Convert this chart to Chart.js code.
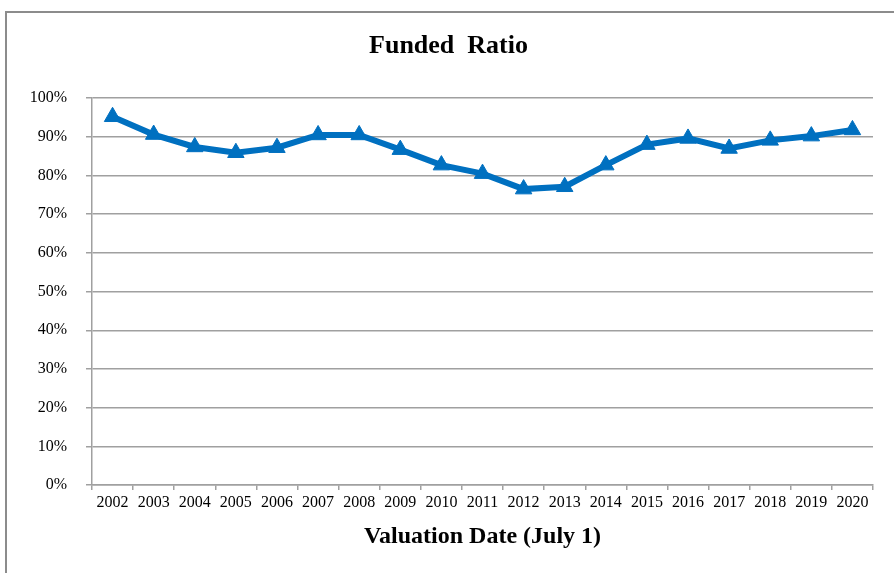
<!DOCTYPE html>
<html>
<head>
<meta charset="utf-8">
<script src="https://cdn.jsdelivr.net/npm/chart.js@4"></script>
<style>
  html, body { margin: 0; padding: 0; background: #fff; overflow: hidden; }
  #wrap { position: relative; width: 894px; height: 573px; }
  #frame { position: absolute; left: 5px; top: 11px; width: 1000px; height: 1000px;
           border-left: 2px solid #8c8c8c; border-top: 2px solid #8c8c8c; pointer-events: none; }
</style>
</head>
<body>
<div id="wrap">
  <canvas id="c" width="894" height="573"></canvas>
  <div id="frame"></div>
</div>
<script>
const chartTitle = 'Funded  Ratio';
const xAxisTitle = 'Valuation Date (July 1)';
const years = ['2002','2003','2004','2005','2006','2007','2008','2009','2010','2011',
               '2012','2013','2014','2015','2016','2017','2018','2019','2020'];
const fundedRatio = [95.2, 90.6, 87.4, 85.9, 87.2, 90.5, 90.5, 86.7, 82.7, 80.5,
                     76.5, 77.1, 82.7, 88.0, 89.6, 87.0, 89.1, 90.2, 91.8];
const yTickValues = [0, 10, 20, 30, 40, 50, 60, 70, 80, 90, 100];

const serif = "'Liberation Serif', 'Times New Roman', serif";
const gridGray = '#a0a0a0';

new Chart(document.getElementById('c'), {
  type: 'line',
  data: {
    labels: years,
    datasets: [{
      data: fundedRatio,
      borderColor: '#0070C0',
      backgroundColor: '#0070C0',
      borderWidth: 6,
      pointStyle: 'triangle',
      pointRadius: 9.5,
      pointHoverRadius: 9.5,
      pointBorderWidth: 1,
      tension: 0,
      fill: false
    }]
  },
  options: {
    responsive: false,
    animation: false,
    devicePixelRatio: 1,
    layout: { padding: { left: 24, right: 21, top: 0, bottom: 0 } },
    plugins: {
      legend: { display: false },
      tooltip: { enabled: false },
      title: {
        display: true,
        text: chartTitle,
        color: '#000',
        font: { family: serif, size: 26, weight: 'bold', lineHeight: 1.2 },
        padding: { top: 31, bottom: 36 }
      }
    },
    scales: {
      x: {
        type: 'category',
        offset: true,
        grid: { display: true, drawOnChartArea: false, drawTicks: true, tickLength: 5,
                color: gridGray, lineWidth: 1.5, offset: true },
        border: { display: true, color: gridGray, width: 1.5 },
        ticks: { color: '#000', font: { family: serif, size: 16 }, padding: 3,
                 maxRotation: 0, autoSkip: false },
        title: { display: true, text: xAxisTitle, color: '#000',
                 font: { family: serif, size: 24, weight: 'bold', lineHeight: 1.2 },
                 padding: { top: 0, bottom: 22 } },
        afterFit: (s) => { s.height = 88; }
      },
      y: {
        min: 0, max: 100,
        afterBuildTicks: (s) => { s.ticks = yTickValues.map(v => ({ value: v })); },
        grid: { color: gridGray, lineWidth: 1.5, tickLength: 6 },
        border: { display: true, color: gridGray, width: 1.5 },
        ticks: { color: '#000', font: { family: serif, size: 16 }, padding: 19,
                 callback: (v) => v + '%' },
        afterFit: (s) => { s.width = 68; }
      }
    }
  }
});
</script>
</body>
</html>
